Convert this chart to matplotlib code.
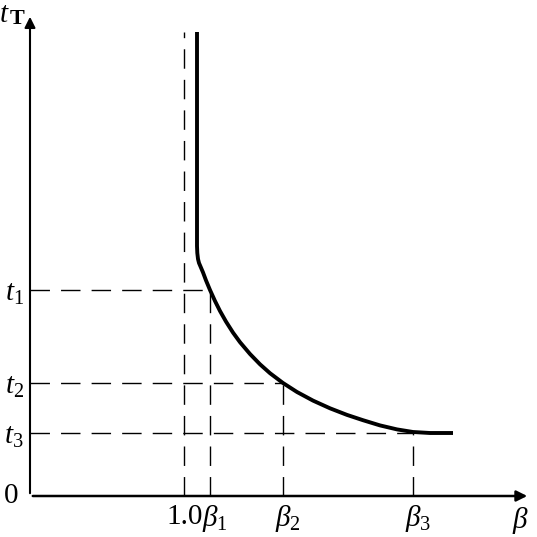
import matplotlib.pyplot as plt

plt.rcParams['font.family'] = ['Liberation Serif', 'DejaVu Serif']
plt.rcParams['mathtext.fontset'] = 'custom'
plt.rcParams['mathtext.rm'] = 'Liberation Serif'
plt.rcParams['mathtext.it'] = 'Liberation Serif:italic'
plt.rcParams['mathtext.bf'] = 'Liberation Serif'

# positions in chart units (origin at the axes crossing)
beta_one = 154
beta_ticks = [180, 253, 383]
beta_labels = [r'$\beta_1$', r'$\beta_2$', r'$\beta_3$']
t_ticks = [206, 113, 63]
t_labels = [r'$t_1$', r'$t_2$', r'$t_3$']

# curve t_T(beta)
curve_x = [167, 167, 167.3, 168, 169, 170.5, 173, 176, 180, 185, 190, 196, 203, 210, 220,
           230, 240, 253, 267, 283, 300, 317, 333, 350, 367, 383, 400, 423]
curve_y = [464, 250, 243, 237, 233, 229.5, 223.6, 215.6, 206, 195, 185, 174.4, 163.4, 153.8, 142,
           131.7, 122.8, 113, 104, 95.4, 87.7, 81.1, 75.8, 70.6, 66.6, 64, 63, 63]

fig = plt.figure(figsize=(5.37, 5.37), dpi=100)
ax = fig.add_axes([0, 0, 1, 1])
ax.set_xlim(-30, 507)
ax.set_ylim(-41, 496)
ax.axis('off')

# axes with arrows
ax.annotate('', xy=(500, 0), xytext=(0, 0),
            arrowprops=dict(arrowstyle='-|>', lw=1.8, color='black', mutation_scale=16))
ax.annotate('', xy=(0, 482), xytext=(0, 0),
            arrowprops=dict(arrowstyle='-|>', lw=1.5, color='black', mutation_scale=16))

dash = dict(color='black', lw=1.0, dashes=(14, 8))
ax.plot([beta_one, beta_one], [0, 464], **dash)
for bx, ty in zip(beta_ticks, t_ticks):
    ax.plot([0, bx], [ty, ty], **dash)
    ax.plot([bx, bx], [0, ty], **dash)

ax.plot(curve_x, curve_y, color='black', lw=2.8, solid_capstyle='butt',
        solid_joinstyle='round')

fs = 21
ax.text(beta_one + 1, -21, '1.0', fontsize=fs, ha='center', va='center')
for bx, lab in zip(beta_ticks, beta_labels):
    ax.text(bx + 5, -22, lab, fontsize=fs, ha='center', va='center')
ax.text(490, -24, r'$\beta$', fontsize=fs, ha='center', va='center')
for ty, lab in zip(t_ticks, t_labels):
    ax.text(-6, ty - 4, lab, fontsize=fs, ha='right', va='center')
ax.text(-12, 0, '0', fontsize=fs, ha='right', va='center')
ax.text(-20.5, 481, r'$t$', fontsize=fs, ha='right', va='center')
ax.text(-20, 477, 'T', fontsize=16, fontweight='bold', ha='left', va='center')

fig.savefig('out.png', dpi=100)
